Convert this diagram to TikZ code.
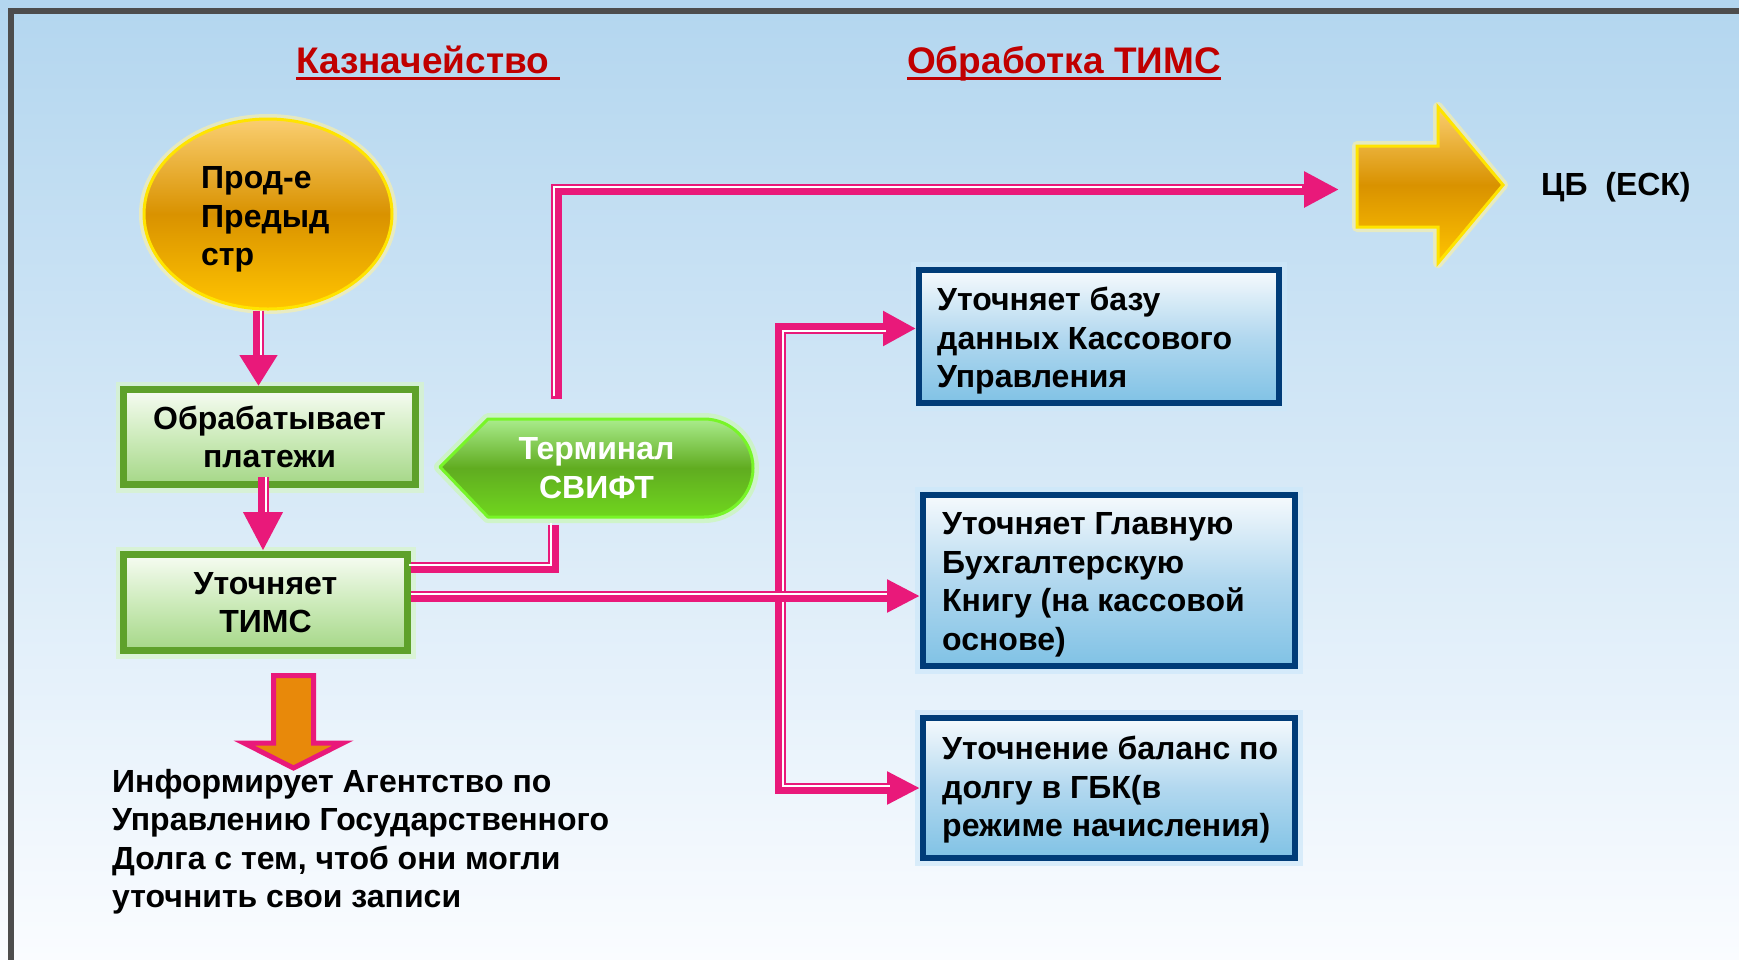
\documentclass[tikz,border=0pt]{standalone}
\usepackage{fontspec}
\setmainfont{Liberation Sans}
\usetikzlibrary{shapes.geometric,arrows.meta,calc}
\definecolor{pinkc}{RGB}{233,25,122}
\definecolor{titlered}{RGB}{192,0,0}
\definecolor{bgtop}{RGB}{179,214,239}
\definecolor{bgbot}{RGB}{250,252,255}
\definecolor{framec}{RGB}{77,77,77}
\definecolor{gborder}{RGB}{94,161,42}
\definecolor{gtop}{RGB}{247,252,243}
\definecolor{gmid}{RGB}{205,235,187}
\definecolor{gbot}{RGB}{165,215,135}
\definecolor{gglow}{RGB}{215,245,200}
\definecolor{bborder}{RGB}{0,60,120}
\definecolor{btop}{RGB}{246,250,253}
\definecolor{bmid}{RGB}{178,216,239}
\definecolor{bbot}{RGB}{128,194,229}
\definecolor{bglow}{RGB}{205,232,250}
\definecolor{otop}{RGB}{250,206,112}
\definecolor{omid}{RGB}{217,146,0}
\definecolor{obot}{RGB}{255,196,0}
\definecolor{oborder}{RGB}{255,228,0}
\definecolor{oglow}{RGB}{255,242,160}
\definecolor{ttop}{RGB}{170,236,140}
\definecolor{tmid}{RGB}{96,172,32}
\definecolor{tbot}{RGB}{112,214,30}
\definecolor{tborder}{RGB}{120,245,40}
\definecolor{tglow}{RGB}{200,250,170}
\definecolor{darrow}{RGB}{232,137,10}
\newcommand\bodyfont{\fontsize{32}{38.5}\selectfont\bfseries}
\newcommand\dconn[4]{%
  \draw[pinkline,#1] #4;
  \draw[whiteline,#2,transform canvas={shift={#3}}] #4;}
\begin{document}
\begin{tikzpicture}[x=1pt,y=-1pt,
  pinkline/.style={draw=pinkc,line width=11pt},
  whiteline/.style={draw=white,line width=2pt},
  gbox/.style={rectangle,draw=gborder,line width=7pt,top color=gtop,bottom color=gbot,middle color=gmid,
    preaction={draw=gglow,line width=16pt,opacity=0.7},
    font=\bodyfont,align=center,text=black,inner sep=0pt},
  bbox/.style={rectangle,draw=bborder,line width=6pt,top color=btop,bottom color=bbot,middle color=bmid,
    preaction={draw=bglow,line width=16pt,opacity=0.7}},
  ttl/.style={font=\fontsize{37}{43}\selectfont\bfseries,text=titlered,inner sep=0pt,anchor=base west},
  txt/.style={font=\bodyfont,text=black,inner sep=0pt,align=left}]
\path[use as bounding box] (0,0) rectangle (1739,959);
\shade[top color=bgtop,bottom color=bgbot] (0,0) rectangle (1739,959);
\draw[framec,line width=6pt] (11,962) -- (11,11) -- (1742,11);

% titles
\node[ttl] (t1) at (296,73) {Казначейство\hspace*{11pt}};
\draw[titlered,line width=3pt] ([yshift=-5.5pt]t1.base west) -- ([yshift=-5.5pt]t1.base east);
\node[ttl] (t2) at (907,73) {Обработка ТИМС};
\draw[titlered,line width=3pt] ([yshift=-5.5pt]t2.base west) -- ([yshift=-5.5pt]t2.base east);

% ellipse
\node[ellipse,minimum width=248pt,minimum height=190pt,draw=oborder,line width=3pt,
  top color=otop,bottom color=obot,middle color=omid,
  preaction={draw=oglow,line width=10pt,opacity=0.6},inner sep=0pt] (ell) at (268,214) {};
\node[txt,anchor=west] (ellt) at (201,219.5) {Прод-е\\Предыд\\стр};

% green boxes
\node[gbox,minimum width=292pt,minimum height=95pt] (box1) at (269.5,437) {Обрабатывает\\платежи};
\node[gbox,minimum width=284pt,minimum height=96pt] (box2) at (265.5,602.5) {Уточняет\\ТИМС};

% terminal
\path[draw=tglow,line width=12pt,opacity=0.6,line join=round]
  (440,467) -- (488,419) -- (704,419) arc(-90:90:49) -- (488,517) -- cycle;
\path[draw=tborder,line width=3pt,top color=ttop,bottom color=tbot,middle color=tmid,line join=round]
  (440,467) -- (488,419) -- (704,419) arc(-90:90:49) -- (488,517) -- cycle;
\node[minimum width=313pt,minimum height=98pt,font=\bodyfont,text=white,align=center,inner sep=0pt] (term) at (596.5,468) {Терминал\\СВИФТ};

% ЦБ block arrow
\path[draw=oglow,line width=10pt,opacity=0.6,line join=round]
  (1357,146) -- (1438,146) -- (1438,107) -- (1503,185) -- (1438,263) -- (1438,227) -- (1357,227) -- cycle;
\path[draw=oborder,line width=3pt,top color=otop,bottom color=obot,middle color=omid,line join=miter]
  (1357,146) -- (1438,146) -- (1438,107) -- (1503,185) -- (1438,263) -- (1438,227) -- (1357,227) -- cycle;
\coordinate (cbw) at (1355,189.5);
\node[txt,anchor=west] (cbt) at (1541,187.5) {ЦБ\ \ (ЕСК)};

% blue boxes
\node[bbox,minimum width=360pt,minimum height=133pt] (b1) at (1099,336.5) {};
\node[txt,anchor=west] (b1t) at ([xshift=21pt,yshift=-4.4pt]b1.west) {Уточняет базу\\данных Кассового\\Управления};
\node[bbox,minimum width=372pt,minimum height=171pt] (b2) at (1109,580.5) {};
\node[txt,anchor=west] (b2t) at ([xshift=22pt,yshift=-4.4pt]b2.west) {Уточняет Главную\\Бухгалтерскую\\Книгу (на кассовой\\основе)};
\node[bbox,minimum width=372pt,minimum height=140pt] (b3) at (1109,788) {};
\node[txt,anchor=west] (b3t) at ([xshift=22pt,yshift=-2pt]b3.west) {Уточнение баланс по\\долгу в ГБК(в\\режиме начисления)};

% orange down arrow
\path[draw=pinkc,line width=5pt,fill=darrow,line join=miter]
  (273.5,675.5) -- (313.5,675.5) -- (313.5,743) -- (343,743) -- (293.5,768) -- (244,743) -- (273.5,743) -- cycle;

% bottom text
\node[txt,anchor=west] (info) at (112,841.5) {Информирует Агентство по\\Управлению Государственного\\Долга с тем, чтоб они могли\\уточнить свои записи};

% connectors
\coordinate (xa) at (258.5,0);
\coordinate (xb) at (263,0);
\coordinate (c2t) at (553,567.5);
\coordinate (cd) at (556.5,0);
\coordinate (jn) at (780.5,596);

\dconn{-{Triangle[length=31pt,width=36pt]}}{shorten >=31pt}{(2.5,0)}{(ell.south -| xa) -- (box1.north -| xa)}
\dconn{-{Triangle[length=39pt,width=37pt]}}{shorten >=39pt}{(2.5,0)}{([yshift=11pt]box1.south -| xb) -- (box2.north -| xb)}
\dconn{shorten >=8pt}{shorten >=8pt}{(-2.5,-2.5)}{(box2.east |- c2t) -- (c2t) -- (term.south -| c2t)}
\dconn{shorten <=20pt,shorten >=16pt,-{Triangle[length=35pt,width=34pt]}}{shorten <=20pt,shorten >=51pt}{(-2.5,-2.5)}{(term.north -| cd) |- (cbw)}
\dconn{-{Triangle[length=33pt,width=33pt]}}{shorten >=33pt}{(2.5,2.5)}{(jn) |- ([yshift=8pt]b1.west)}
\dconn{-{Triangle[length=33pt,width=31pt]}}{shorten >=33pt}{(2.5,-2.5)}{(jn) |- (b3.west)}
\dconn{-{Triangle[length=33pt,width=31pt]}}{shorten >=33pt}{(0,-2.5)}{(box2.east |- jn) -- (b2.west |- jn)}
\end{tikzpicture}
\end{document}
